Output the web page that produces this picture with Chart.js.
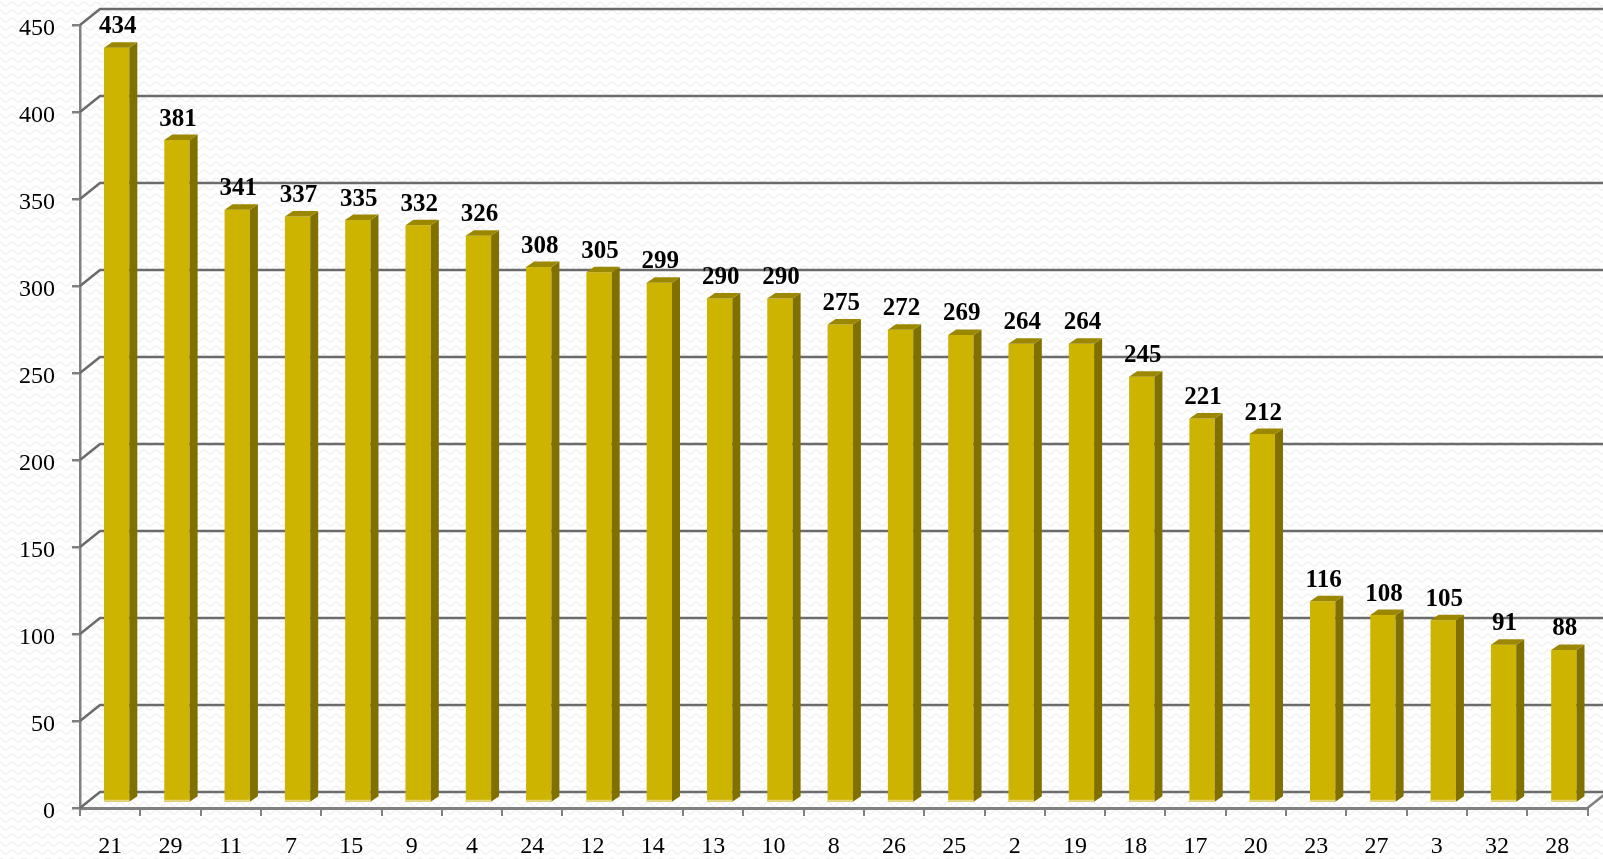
<!DOCTYPE html>
<html>
<head>
<meta charset="utf-8">
<script src="https://cdn.jsdelivr.net/npm/chart.js@4.4.1/dist/chart.umd.min.js"></script>
<style>
  html, body { margin: 0; padding: 0; background: #fff; overflow: hidden; }
  #wrap { width: 1603px; height: 859px; }
</style>
</head>
<body>
<div id="wrap"><canvas id="chart-section" width="1603" height="859"></canvas></div>
<script>
const categories = ['21', '29', '11', '7', '15', '9', '4', '24', '12', '14', '13', '10', '8',
  '26', '25', '2', '19', '18', '17', '20', '23', '27', '3', '32', '28'];
const counts = [434, 381, 341, 337, 335, 332, 326, 308, 305, 299, 290, 290, 275,
  272, 269, 264, 264, 245, 221, 212, 116, 108, 105, 91, 88];
const yMax = 450;
const yStep = 50;

// fake 3d: back wall offset, bar plane offset, bar depth
const WALL = { x: 20, y: -16 };
const BAR_SHIFT = { x: 6.5, y: -5 };
const BAR_DEPTH = { x: 8, y: -5.5 };

const GRID_COLOR = '#6b6b6b';
const AXIS_COLOR = '#808080';
const FRONT = '#ccb400';
const SIDE = '#807000';
const TOP = '#9c8800';

// faint wavy texture behind everything
function wavePattern(ctx) {
  const tile = document.createElement('canvas');
  tile.width = 12;
  tile.height = 8;
  const t = tile.getContext('2d');
  t.strokeStyle = '#f0f0f0';
  t.lineWidth = 1.3;
  t.beginPath();
  for (let x = 0; x <= 12; x += 0.5) {
    const y = 4 - 2 * Math.cos((x / 12) * Math.PI * 2);
    if (x === 0) t.moveTo(x, y); else t.lineTo(x, y);
  }
  t.stroke();
  return ctx.createPattern(tile, 'repeat');
}

// keep the plot box fixed, labels may overhang
function noPadding(scale) {
  scale.paddingTop = 0;
  scale.paddingBottom = 0;
  scale.paddingLeft = 0;
  scale.paddingRight = 0;
}

const chart3d = {
  id: 'chart3d',
  beforeDraw(chart) {
    const ctx = chart.ctx;
    ctx.save();
    ctx.fillStyle = '#fff';
    ctx.fillRect(0, 0, chart.width, chart.height);
    ctx.fillStyle = wavePattern(ctx);
    ctx.fillRect(0, 0, chart.width, chart.height);
    ctx.restore();
  },
  beforeDatasetsDraw(chart) {
    const ctx = chart.ctx;
    const area = chart.chartArea;
    const y = chart.scales.y;
    ctx.save();
    ctx.strokeStyle = GRID_COLOR;
    ctx.lineWidth = 2.5;
    for (let v = 0; v <= yMax; v += yStep) {
      const py = y.getPixelForValue(v);
      ctx.beginPath();
      ctx.moveTo(area.left, py);
      ctx.lineTo(area.left + WALL.x, py + WALL.y);
      ctx.lineTo(area.right + WALL.x + 40, py + WALL.y);
      ctx.stroke();
    }
    // floor edge on the right
    ctx.strokeStyle = AXIS_COLOR;
    ctx.beginPath();
    ctx.moveTo(area.right, area.bottom);
    ctx.lineTo(area.right + WALL.x, area.bottom + WALL.y);
    ctx.stroke();
    ctx.restore();

    ctx.save();
    ctx.translate(BAR_SHIFT.x, BAR_SHIFT.y);
  },
  afterDatasetsDraw(chart) {
    const ctx = chart.ctx;
    const meta = chart.getDatasetMeta(0);
    meta.data.forEach((bar, i) => {
      const { x, y, base, width } = bar.getProps(['x', 'y', 'base', 'width'], true);
      const l = x - width / 2;
      const r = x + width / 2;
      const dx = BAR_DEPTH.x, dy = BAR_DEPTH.y;

      ctx.fillStyle = SIDE;
      ctx.beginPath();
      ctx.moveTo(r, y);
      ctx.lineTo(r + dx, y + dy);
      ctx.lineTo(r + dx, base + dy);
      ctx.lineTo(r, base);
      ctx.closePath();
      ctx.fill();

      ctx.fillStyle = TOP;
      ctx.beginPath();
      ctx.moveTo(l, y);
      ctx.lineTo(l + dx, y + dy);
      ctx.lineTo(r + dx, y + dy);
      ctx.lineTo(r, y);
      ctx.closePath();
      ctx.fill();

      ctx.fillStyle = '#e3d47e';
      ctx.fillRect(l, base - 2, width, 2);

      ctx.fillStyle = '#000';
      ctx.font = 'bold 25px "Liberation Serif"';
      ctx.textAlign = 'center';
      ctx.textBaseline = 'alphabetic';
      ctx.fillText(String(counts[i]), x + 1, y + dy - 9);
    });
    ctx.restore();
  }
};

new Chart(document.getElementById('chart-section'), {
  type: 'bar',
  data: {
    labels: categories,
    datasets: [{
      data: counts,
      backgroundColor: FRONT,
      borderWidth: 0,
      barPercentage: 0.42,
      categoryPercentage: 1,
      clip: false
    }]
  },
  options: {
    responsive: false,
    animation: false,
    layout: { padding: { top: 25, right: 15.5, left: 0, bottom: 0 } },
    plugins: {
      legend: { display: false },
      tooltip: { enabled: false }
    },
    scales: {
      x: {
        afterFit(scale) { scale.height = 51; noPadding(scale); },
        grid: {
          drawOnChartArea: false,
          drawTicks: true,
          tickLength: 8,
          color: AXIS_COLOR,
          lineWidth: 2
        },
        border: { display: true, color: AXIS_COLOR, width: 3 },
        ticks: {
          color: '#000',
          font: { family: 'Liberation Serif', size: 24 },
          padding: 16,
          maxRotation: 0,
          autoSkip: false
        }
      },
      y: {
        min: 0,
        max: yMax,
        afterFit(scale) { scale.width = 80; noPadding(scale); },
        grid: {
          drawOnChartArea: false,
          drawTicks: true,
          tickLength: 8,
          color: AXIS_COLOR,
          lineWidth: 2.5
        },
        border: { display: true, color: AXIS_COLOR, width: 2.5 },
        ticks: {
          stepSize: yStep,
          color: '#000',
          font: { family: 'Liberation Serif', size: 24 },
          padding: 17,
          labelOffset: 4
        }
      }
    }
  },
  plugins: [chart3d]
});
</script>
</body>
</html>
